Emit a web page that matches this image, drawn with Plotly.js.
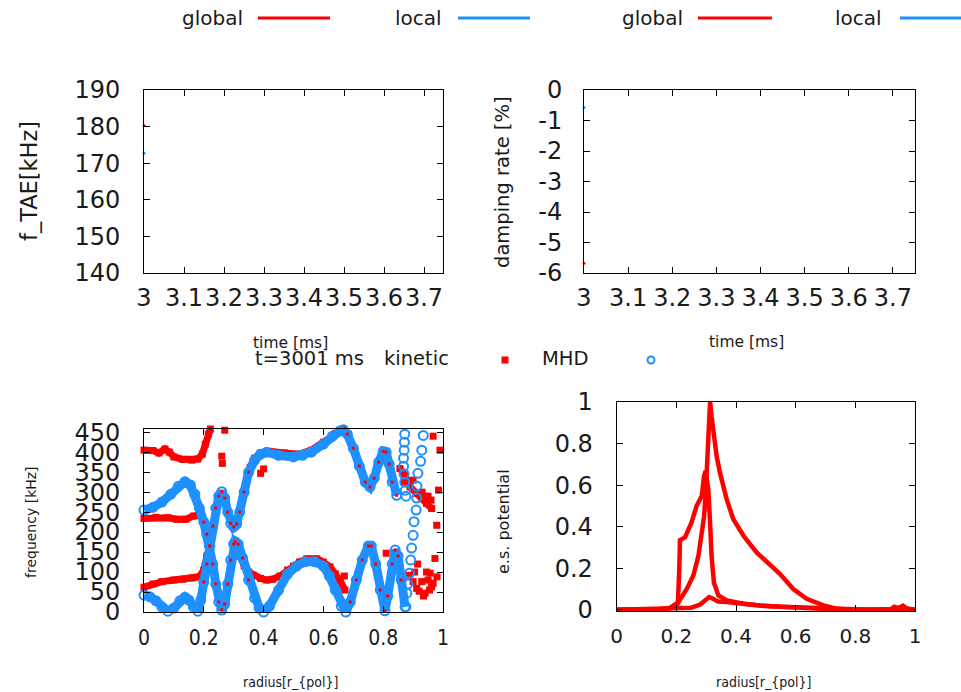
<!DOCTYPE html>
<html>
<head>
<meta charset="utf-8">
<script src="https://cdn.plot.ly/plotly-3.0.1.min.js"></script>
<style>html,body{margin:0;padding:0;background:#fff;}#chart{width:961px;height:692px;}</style>
</head>
<body>
<div id="chart"></div>
<script>
// ---------- tick definitions ----------
const timeTicks = [3, 3.1, 3.2, 3.3, 3.4, 3.5, 3.6, 3.7];
const timeTickText = ['3', '3.1', '3.2', '3.3', '3.4', '3.5', '3.6', '3.7'];
const fTaeTicks = [140, 150, 160, 170, 180, 190];
const dampTicks = [-6, -5, -4, -3, -2, -1, 0];
const dampTickText = ['-6', '-5', '-4', '-3', '-2', '-1', '0'];
const freqTicks = [0, 50, 100, 150, 200, 250, 300, 350, 400, 450];
const radiusTicks = [0, 0.2, 0.4, 0.6, 0.8, 1];
const radiusTickText = ['0', '0.2', '0.4', '0.6', '0.8', '1'];
const potTicks = [0, 0.2, 0.4, 0.6, 0.8, 1];
const potTickText = ['0', '0.2', '0.4', '0.6', '0.8', '1'];

// ---------- time traces (top panels) ----------
const timeMs = [3];
const fGlobal = [180.3];
const fLocal = [172.7];
const dampGlobal = [-5.68];
const dampLocal = [-0.57];

// ---------- continuum (bottom-left) : MHD ----------
const mhdA_R = [0,0.03,0.06,0.09,0.115,0.137,0.155,0.17,0.185,0.2,0.21,0.22,0.23,0.24,0.25,0.26,0.27,0.28,0.29,0.3,0.305,0.315,0.33,0.35,0.37,0.385,0.4,0.42,0.45,0.48,0.51,0.54,0.57,0.6,0.62,0.64,0.66,0.675,0.69,0.71,0.73,0.75,0.76,0.775,0.79,0.806,0.815,0.83,0.84,0.85,0.86,0.873];
const mhdA_F = [255,262,275,295,315,326,318,295,260,225,195,165,120,70,25,5,20,70,130,170,176,170,135,80,35,10,0,15,55,95,115,126,126,115,90,55,15,0,25,80,130,165,165,120,55,3,40,120,155,140,80,13];
const mhdB_R = [0,0.02,0.04,0.06,0.08,0.1,0.12,0.137,0.15,0.165,0.18,0.19,0.2,0.21,0.22,0.23,0.24,0.25,0.26,0.27,0.28,0.29,0.3,0.31,0.32,0.335,0.35,0.37,0.39,0.41,0.45,0.5,0.53,0.56,0.6,0.63,0.655,0.667,0.68,0.7,0.72,0.74,0.756,0.77,0.785,0.8,0.81,0.82,0.83,0.845];
const mhdB_F = [42,38,28,12,2,10,28,37,30,12,2,30,75,120,165,215,260,290,301,285,250,222,213,220,250,300,350,380,395,400,392,388,392,400,420,440,453,456,445,410,365,325,313,335,375,402,400,370,325,292];
const mhdSparseR = [0.872,0.871,0.87,0.868,0.868,0.87,0.872,0.874,0.876,0.934,0.929,0.925,0.916,0.913,0.912,0.91,0.903,0.9,0.895,0.892,0.888,0.882,0.879,0.876];
const mhdSparseF = [445,425,405,385,365,345,325,305,290,442,405,377,347,315,285,255,226,192,160,130,97,70,47,13];

// ---------- continuum (bottom-left) : kinetic ----------
const kinLowR = [0,0.03,0.06,0.1,0.13,0.16,0.185,0.2,0.21,0.22];
const kinLowF = [62,70,76,80,82,85,88,105,140,168];
const kinLow2R = [0.305,0.32,0.335,0.35,0.366,0.39,0.41,0.43,0.455,0.48,0.5,0.52,0.544,0.578,0.6,0.622,0.64,0.655,0.672];
const kinLow2F = [176,140,115,100,92,84,80,82,90,105,115,125,133,133,125,113,95,80,55];
const kinMidR = [0,0.04,0.08,0.11,0.14,0.165,0.185,0.2,0.21,0.22];
const kinMidF = [234,237,236,232,232,240,243,225,200,170];
const kinUpR = [0,0.03,0.05,0.07,0.085,0.1,0.13,0.16,0.18,0.195,0.205,0.215,0.222];
const kinUpF = [405,404,398,408,400,388,382,380,383,395,420,445,458];
const kinPlatR = [0.355,0.37,0.39,0.42,0.47,0.52,0.56,0.6,0.64,0.665];
const kinPlatF = [362,385,398,402,398,395,405,425,447,458];
const kinTailR = [0.856,0.873,0.89,0.912,0.929,0.945,0.962];
const kinTailF = [359,342,313,297,284,272,259];
const kinScatR = [0.26,0.262,0.27,0.4,0.39,0.67,0.81,0.884,0.9,0.912,0.92,0.929,0.935,0.94,0.95,0.955,0.962,0.967,0.973,0.98,0.985,0.979,0.967,0.99,0.957,0.945,0.905,0.915,0.93,0.95,0.96,0.9,0.87];
const kinScatF = [390,372,455,358,347,90,147,92,76,59,52,76,40,47,80,55,63,72,134,88,305,217,440,405,97,100,100,120,300,290,280,330,325];
// radius windows where the kinetic branch coincides with the MHD branch
const kinOnMhdWindows = [[0.2, 0.35], [0.68, 0.87]];

// ---------- e.s. potential (bottom-right) ----------
const pot1R = [0,0.1,0.15,0.18,0.207,0.235,0.257,0.274,0.285,0.293,0.299,0.304,0.309,0.313,0.318,0.324,0.335,0.346,0.369,0.391,0.425,0.469,0.503,0.547,0.592,0.637,0.693,0.737,0.78,1];
const pot1V = [0,0,0.003,0.01,0.037,0.1,0.165,0.26,0.356,0.45,0.58,0.74,0.9,1.0,0.93,0.85,0.74,0.66,0.53,0.436,0.356,0.276,0.228,0.173,0.1,0.053,0.021,0.005,0,0];
const pot2R = [0,0.15,0.19,0.205,0.21,0.212,0.229,0.251,0.268,0.285,0.293,0.298,0.303,0.307,0.313,0.318,0.326,0.341,0.369,0.425,0.48,0.59,0.68,0.75,1];
const pot2V = [0,0.002,0.01,0.03,0.2,0.335,0.348,0.42,0.5,0.548,0.644,0.668,0.62,0.58,0.42,0.26,0.13,0.069,0.045,0.029,0.02,0.013,0.005,0,0];
const pot3R = [0,0.2,0.25,0.28,0.3,0.31,0.32,0.34,0.369,0.42,0.48,0.55,0.65,0.75,0.85,0.92,0.93,0.945,0.96,0.97,1];
const pot3V = [0,0.005,0.01,0.025,0.05,0.061,0.055,0.04,0.037,0.028,0.02,0.014,0.008,0.003,0,0.004,0.015,0.008,0.02,0.008,0];

// ---------- styling ----------
const RED = '#ff0000';
const BLUE = '#1e90ff';
const TXT = '#1a1a1a';
const FONT = 'DejaVu Sans, Liberation Sans, sans-serif';
const FONT_C = 'DejaVu Sans Condensed, DejaVu Sans, sans-serif';
const W = 961, H = 692;
const px = v => v / W;
const py = v => 1 - v / H;

const kinBand = (r, f) => ({x: r, y: f, xaxis: 'x3', yaxis: 'y3', type: 'scatter', mode: 'lines+markers',
  line: {color: RED, width: 7}, marker: {symbol: 'square', size: 7, color: RED}, cliponaxis: false, hoverinfo: 'skip'});
const mhdBand = (r, f) => ({x: r, y: f, xaxis: 'x3', yaxis: 'y3', type: 'scatter', mode: 'lines+markers',
  line: {color: BLUE, width: 9}, marker: {symbol: 'circle-open', size: 9, color: BLUE, line: {width: 2, color: BLUE}}, cliponaxis: false, hoverinfo: 'skip'});
const potLine = (r, v) => ({x: r, y: v, xaxis: 'x4', yaxis: 'y4', type: 'scatter', mode: 'lines',
  line: {color: RED, width: 4.5}, hoverinfo: 'skip'});

function inWindows(r) { return kinOnMhdWindows.some(w => r >= w[0] && r <= w[1]); }
const overlapR = [], overlapF = [];
[[mhdA_R, mhdA_F], [mhdB_R, mhdB_F]].forEach(pair => pair[0].forEach((r, i) => {
  if (inWindows(r)) { overlapR.push(r); overlapF.push(pair[1][i]); }
}));

const data = [
  {x: timeMs, y: fGlobal, name: 'global', xaxis: 'x', yaxis: 'y', mode: 'lines+markers', line: {color: RED, width: 2}, marker: {color: RED, size: 3}, cliponaxis: false},
  {x: timeMs, y: fLocal, name: 'local', xaxis: 'x', yaxis: 'y', mode: 'lines+markers', line: {color: BLUE, width: 2}, marker: {color: BLUE, size: 3}, cliponaxis: false},
  {x: timeMs, y: dampGlobal, name: 'global', xaxis: 'x2', yaxis: 'y2', mode: 'lines+markers', line: {color: RED, width: 2}, marker: {color: RED, size: 3}, cliponaxis: false},
  {x: timeMs, y: dampLocal, name: 'local', xaxis: 'x2', yaxis: 'y2', mode: 'lines+markers', line: {color: BLUE, width: 2}, marker: {color: BLUE, size: 3}, cliponaxis: false},
  kinBand(kinLowR, kinLowF),
  kinBand(kinLow2R, kinLow2F),
  kinBand(kinMidR, kinMidF),
  kinBand(kinUpR, kinUpF),
  kinBand(kinPlatR, kinPlatF),
  kinBand(kinTailR, kinTailF),
  {x: kinScatR, y: kinScatF, xaxis: 'x3', yaxis: 'y3', mode: 'markers', marker: {symbol: 'square', size: 7, color: RED}, cliponaxis: false, hoverinfo: 'skip'},
  mhdBand(mhdA_R, mhdA_F),
  mhdBand(mhdB_R, mhdB_F),
  {x: mhdSparseR, y: mhdSparseF, xaxis: 'x3', yaxis: 'y3', mode: 'markers', marker: {symbol: 'circle-open', size: 9, color: BLUE, line: {width: 2, color: BLUE}}, cliponaxis: false, hoverinfo: 'skip'},
  {x: overlapR, y: overlapF, xaxis: 'x3', yaxis: 'y3', mode: 'markers', marker: {symbol: 'square', size: 3, color: RED}, cliponaxis: false, hoverinfo: 'skip'},
  potLine(pot1R, pot1V),
  potLine(pot2R, pot2V),
  potLine(pot3R, pot3V)
];

const baseAxis = {
  showline: true, linecolor: '#000', linewidth: 1, mirror: 'ticks', ticks: 'inside', ticklen: 6, tickcolor: '#000',
  showgrid: false, zeroline: false, fixedrange: true, tickangle: 0
};
const bigTick = {family: FONT, size: 24, color: TXT};
const smallTick = {family: FONT_C, size: 21, color: TXT};

const layout = {
  width: W, height: H, margin: {l: 0, r: 0, t: 0, b: 0}, showlegend: false,
  paper_bgcolor: '#fff', plot_bgcolor: '#fff', font: {family: FONT, color: TXT},
  xaxis: Object.assign({}, baseAxis, {domain: [px(144), px(443)], anchor: 'y', range: [3, 3.7475],
    tickmode: 'array', tickvals: timeTicks, ticktext: timeTickText, tickfont: bigTick, ticklabelstandoff: 3}),
  yaxis: Object.assign({}, baseAxis, {domain: [py(273), py(90)], anchor: 'x', range: [140, 190],
    tickmode: 'array', tickvals: fTaeTicks, tickfont: bigTick, ticklabelstandoff: 18}),
  xaxis2: Object.assign({}, baseAxis, {domain: [px(584), px(915)], anchor: 'y2', range: [3, 3.75],
    tickmode: 'array', tickvals: timeTicks, ticktext: timeTickText, tickfont: bigTick, ticklabelstandoff: 3}),
  yaxis2: Object.assign({}, baseAxis, {domain: [py(273), py(90)], anchor: 'x2', range: [-6, 0],
    tickmode: 'array', tickvals: dampTicks, ticktext: dampTickText, tickfont: bigTick, ticklabelstandoff: 16}),
  xaxis3: Object.assign({}, baseAxis, {domain: [px(144), px(443)], anchor: 'y3', range: [0, 1],
    tickmode: 'array', tickvals: radiusTicks, ticktext: radiusTickText, tickfont: smallTick, ticklabelstandoff: 7}),
  yaxis3: Object.assign({}, baseAxis, {domain: [py(612), py(429)], anchor: 'x3', range: [0, 458],
    tickmode: 'array', tickvals: freqTicks, tickfont: bigTick, ticklabelstandoff: 18}),
  xaxis4: Object.assign({}, baseAxis, {domain: [px(616.7), px(915)], anchor: 'y4', range: [0, 1],
    tickmode: 'array', tickvals: radiusTicks, ticktext: radiusTickText, tickfont: {family: FONT, size: 20, color: TXT}, ticklabelstandoff: 7}),
  yaxis4: Object.assign({}, baseAxis, {domain: [py(611), py(402)], anchor: 'x4', range: [-0.006, 1],
    tickmode: 'array', tickvals: potTicks, ticktext: potTickText, tickfont: bigTick, ticklabelstandoff: 18}),
  annotations: [],
  shapes: []
};

function label(text, x, y, size, opts) {
  layout.annotations.push(Object.assign({text: text, x: px(x), y: py(y), xref: 'paper', yref: 'paper',
    showarrow: false, xanchor: 'center', yanchor: 'middle', font: {family: FONT, size: size, color: TXT}}, opts || {}));
}
// legend row
label('global', 212, 18, 20);
label('local', 418, 18, 20);
label('global', 652, 18, 20);
label('local', 858, 18, 20);
const legLines = [[258, 330, RED], [458, 530, BLUE], [698, 772, RED], [900, 961, BLUE]];
legLines.forEach(l => layout.shapes.push({type: 'line', xref: 'paper', yref: 'paper', x0: px(l[0]), x1: px(l[1]), y0: py(18), y1: py(18), line: {color: l[2], width: 3}}));

// axis titles
label('f_TAE[kHz]', 29, 181, 22.5, {textangle: -90});
label('damping rate [%]', 502, 182, 19.5, {textangle: -90});
label('time [ms]', 290, 343, 15.5);
label('time [ms]', 746, 342, 15.5);
label('frequency [kHz]', 31, 522, 14, {textangle: -90});
label('e.s. potential', 503, 522, 16, {textangle: -90});
label('radius[r_{pol}]', 290, 682, 14, {font: {family: FONT_C, size: 14, color: TXT}});
label('radius[r_{pol}]', 763, 682, 14, {font: {family: FONT_C, size: 14, color: TXT}});

// middle key row
label('t=3001 ms', 253, 358, 19.5, {xanchor: 'left'});
label('kinetic', 382, 358, 19.5, {xanchor: 'left'});
label('MHD', 540, 358, 19.5, {xanchor: 'left'});
layout.shapes.push({type: 'rect', xref: 'paper', yref: 'paper', x0: px(501.5), x1: px(508.5), y0: py(363.5), y1: py(356.5), fillcolor: RED, line: {width: 0}});
layout.shapes.push({type: 'circle', xref: 'paper', yref: 'paper', x0: px(647.5), x1: px(654.5), y0: py(363.5), y1: py(356.5), line: {color: BLUE, width: 2}});

Plotly.newPlot('chart', data, layout, {displayModeBar: false, staticPlot: true});
</script>
</body>
</html>
